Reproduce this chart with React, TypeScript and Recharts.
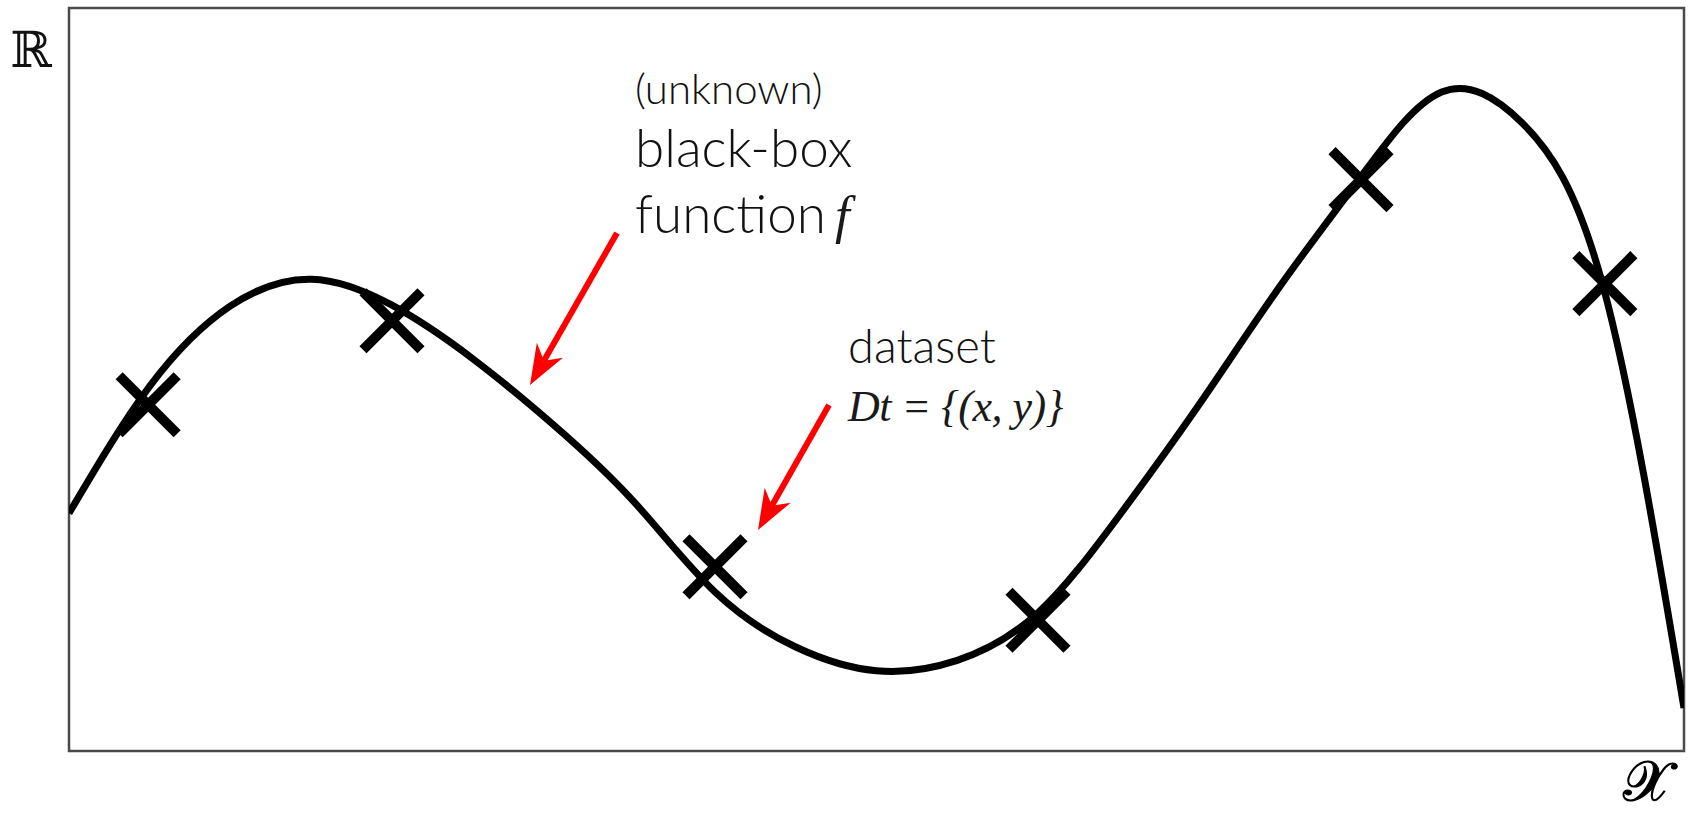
import React from 'react';
import {
	ComposedChart,
	Line,
	Scatter,
	XAxis,
	YAxis,
	ReferenceArea,
} from 'recharts';

// black-box function f (x: 0..10, y: 0..10)
const curveX = [
	0, 0.5, 1, 1.5, 2, 2.5, 3, 3.5, 4, 4.5, 5, 5.5, 6, 6.5, 7, 7.5, 8, 8.5, 9,
	9.5, 10,
];
const curveY = [
	3.2, 4.91, 5.99, 6.35, 6.0, 5.28, 4.39, 3.35, 2.14, 1.4, 1.08, 1.22, 1.86,
	3.16, 4.67, 6.26, 7.73, 8.87, 8.45, 6.25, 0.58,
];

// dataset Dt (the crosses)
const sampleX = [0.49, 2.0, 4.0, 6.0, 8.0, 9.51];
const sampleY = [4.66, 5.79, 2.48, 1.76, 7.69, 6.29];

const curve = curveX.map((x, i) => ({ x, y: curveY[i] }));
const samples = sampleX.map((x, i) => ({ x, y: sampleY[i] }));

const Cross = (props: any) => {
	const { cx, cy } = props;
	const r = 29;
	return (
		<g>
			<line x1={cx - r} y1={cy - r} x2={cx + r} y2={cy + r} stroke='#000' strokeWidth={10} />
			<line x1={cx - r} y1={cy + r} x2={cx + r} y2={cy - r} stroke='#000' strokeWidth={10} />
		</g>
	);
};

// red arrow from tail to tip, with a swept-back head
const Arrow = ({ x1, y1, x2, y2 }) => {
	const dx = x2 - x1;
	const dy = y2 - y1;
	const len = Math.sqrt(dx * dx + dy * dy);
	const ux = dx / len;
	const uy = dy / len;
	const nx = -uy;
	const ny = ux;
	const back = 40;
	const half = 15;
	const notch = 28;
	const bx = x2 - ux * back;
	const by = y2 - uy * back;
	const mx = x2 - ux * notch;
	const my = y2 - uy * notch;
	const pts = [
		[x2, y2],
		[bx + nx * half, by + ny * half],
		[mx, my],
		[bx - nx * half, by - ny * half],
	]
		.map((p) => p.join(','))
		.join(' ');
	return (
		<g>
			<line x1={x1} y1={y1} x2={mx} y2={my} stroke='#ff0000' strokeWidth={6} />
			<polygon points={pts} fill='#ff0000' />
		</g>
	);
};

const textStyle = {
	fontFamily: 'Lato, "Open Sans", sans-serif',
	fontWeight: 300,
	fill: '#111',
};
const mathStyle = {
	fontFamily: '"Liberation Serif", "DejaVu Serif", serif',
	fontStyle: 'italic',
	fill: '#1a1a1a',
};

export default function App() {
	return (
		<div
			style={{
				position: 'absolute',
				left: 0,
				top: 0,
				width: 1690,
				height: 815,
				background: '#fff',
			}}
		>
			<ComposedChart
				width={1690}
				height={815}
				margin={{ top: 8, right: 6, bottom: 64, left: 69 }}
			>
				<XAxis type='number' dataKey='x' domain={[0, 10]} allowDataOverflow hide />
				<YAxis type='number' dataKey='y' domain={[0, 10]} allowDataOverflow hide />
				<ReferenceArea
					x1={0}
					x2={10}
					y1={0}
					y2={10}
					fill='#fff'
					fillOpacity={0}
					stroke='#4a4a4a'
					strokeWidth={2.5}
					strokeOpacity={1}
				/>
				<Line
					data={curve}
					dataKey='y'
					type='natural'
					stroke='#000'
					strokeWidth={7}
					dot={false}
					activeDot={false}
					isAnimationActive={false}
				/>
				<Scatter
					data={samples}
					dataKey='y'
					shape={<Cross />}
					isAnimationActive={false}
				/>
			</ComposedChart>
			<svg
				width={1690}
				height={815}
				style={{ position: 'absolute', left: 0, top: 0, pointerEvents: 'none' }}
			>
				<text x={31} y={67} textAnchor='middle' fontSize={50} style={{ fontFamily: '"DejaVu Serif", serif', fill: '#111' }}>
					ℝ
				</text>
				<text
					x={1647}
					y={800}
					textAnchor='middle'
					fontSize={56}
					style={{ fontFamily: '"DejaVu Serif", "DejaVu Sans", serif', fill: '#000', stroke: '#000', strokeWidth: 1.2 }}
				>
					𝒳
				</text>

				<text x={635} y={104} fontSize={42} style={textStyle}>
					(unknown)
				</text>
				<text x={635} y={167} fontSize={53} style={textStyle}>
					black-box
				</text>
				<text x={635} y={233} fontSize={53} style={textStyle}>
					function<tspan dx={9} style={mathStyle}>f</tspan>
				</text>

				<text x={848} y={363} fontSize={47} style={textStyle}>
					dataset
				</text>
				<text x={848} y={421} fontSize={44} letterSpacing={-0.5} style={mathStyle}>
					Dt = {'{'}(x, y){'}'}
				</text>

				<Arrow x1={617} y1={233} x2={530} y2={385} />
				<Arrow x1={829} y1={405} x2={758} y2={530} />
			</svg>
		</div>
	);
}
